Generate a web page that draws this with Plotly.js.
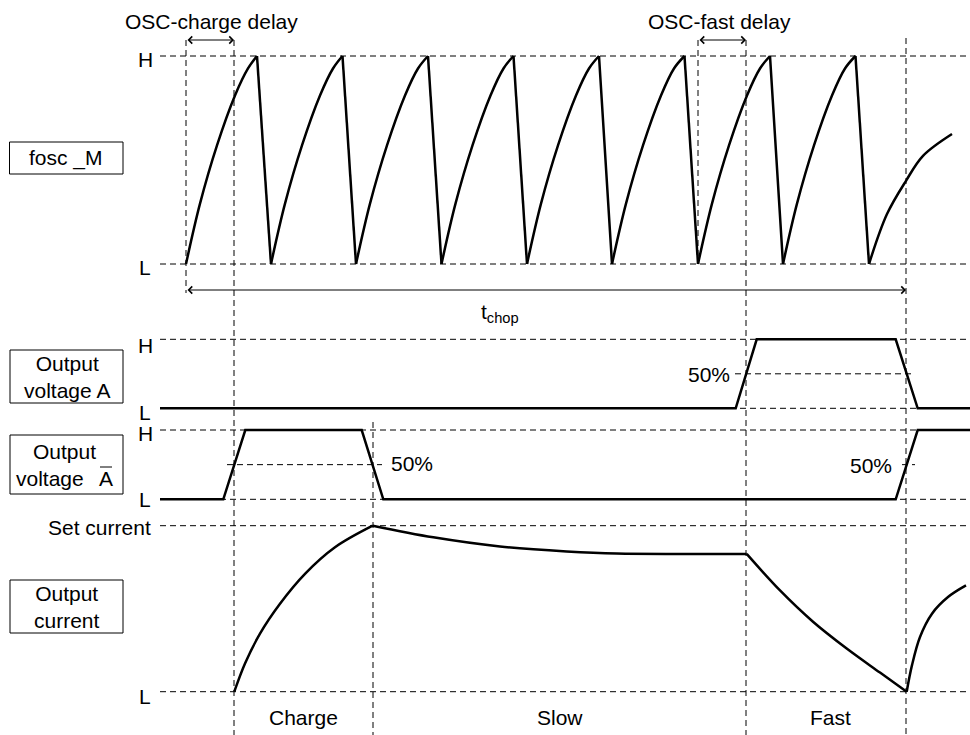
<!DOCTYPE html>
<html><head><meta charset="utf-8">
<script src="https://cdn.plot.ly/plotly-3.0.1.min.js"></script>
<style>html,body{margin:0;padding:0;background:#fff}#chart{width:970px;height:735px}</style>
</head><body><div id="chart"></div><script>
// ---- data (time in drawing units 0..970, levels: L = 0, H = 1) ----
const oscT = [186,200,217,235,248,257, 271,285,302,320,333,342.5, 356,370,387,405,418,428,
  441.5,455.5,472.5,490.5,503.5,513.5, 527,541,558,576,589,599, 612,626,643,661,674,684.5,
  698,712,729,747,760,770, 783,797,814,832,845,855.5, 869,887,906,923,952];
const oscV = [0,0.29,0.57,0.81,0.94,1, 0,0.29,0.57,0.81,0.94,1, 0,0.29,0.57,0.81,0.94,1,
  0,0.29,0.57,0.81,0.94,1, 0,0.29,0.57,0.81,0.94,1, 0,0.29,0.57,0.81,0.94,1,
  0,0.29,0.57,0.81,0.94,1, 0,0.29,0.57,0.81,0.94,1, 0,0.24,0.40,0.52,0.625];
const voltAT = [160,735.7,756.7,895.7,917.7,970];
const voltAV = [0,0,1,1,0,0];
const voltBT = [160,223.3,245.3,361.7,383.3,895.7,917.7,970];
const voltBV = [0,0,1,1,0,0,1,1];
const curChargeT = [234.3,245,260,280,305,335,372.7];
const curChargeV = [0,0.17,0.35,0.53,0.71,0.87,1];
const curSlowT = [372.7,433.3,500,566.7,616.7,700,746.7];
const curSlowV = [1,0.93,0.875,0.845,0.832,0.83,0.83];
const curFastT = [746.7,780,813.3,846.7,880,906.7];
const curFastV = [0.83,0.61,0.42,0.26,0.115,0];
const curRiseT = [906.7,912,920,932,948,966];
const curRiseV = [0,0.16,0.33,0.47,0.57,0.64];
const phaseLabels = ['Charge','Slow','Fast'];
const signalNames = ['fosc _M','Output<br>voltage A','Output<br>voltage\u2002 A','Output<br>current'];

// ---- layout helpers ----
const W = 970, Hh = 735;
const py = p => 1 - p / Hh;
const panels = [ {L:264, H:56, pad:0.15}, {L:408.3, H:339.3, pad:0.25},
                 {L:499.3, H:430, pad:0.25}, {L:691.7, H:525.7, pad:0.1} ];
const yIds = ['y','y2','y3','y4'];
const layout = {
  width: W, height: Hh, margin:{l:0,r:0,t:0,b:0}, showlegend:false,
  paper_bgcolor:'#fff', plot_bgcolor:'rgba(0,0,0,0)',
  font:{family:'Liberation Sans, Arial, sans-serif', size:21, color:'#000'},
  xaxis:{range:[0,W], visible:false, fixedrange:true},
  shapes:[], annotations:[]
};
panels.forEach((p,i)=>{
  const u = p.L - p.H;
  const key = i === 0 ? 'yaxis' : 'yaxis' + (i+1);
  layout[key] = {range:[-p.pad, 1+p.pad], visible:false, fixedrange:true,
    domain:[py(p.L + p.pad*u), py(p.H - p.pad*u)], anchor:'x'};
});
const dash = {dash:'6px,4px', width:1, color:'#000'};
const hline = (yr, lv, x0, x1) => ({type:'line', xref:'x', yref:yr, x0:x0, x1:x1, y0:lv, y1:lv, line:dash, layer:'below'});
const vline = (x, y0, y1) => ({type:'line', xref:'x', yref:'paper', x0:x, x1:x, y0:py(y0), y1:py(y1), line:dash, layer:'below'});
const rect = (x0,y0,x1,y1) => ({type:'rect', xref:'x', yref:'paper', x0:x0, x1:x1, y0:py(y0), y1:py(y1), line:{width:1,color:'#000'}});
const txt = (t, x, y, xa) => ({text:t, x:x, y:py(y), xref:'x', yref:'paper', showarrow:false, xanchor:xa||'center', yanchor:'middle'});
const arrow = (x0, x1, y, both) => ({text:'', xref:'x', yref:'paper', x:x1, y:py(y), axref:'x', ax:x0, ayref:'pixel', ay:0,
  showarrow:true, arrowhead:4, startarrowhead:4, arrowside: both ? 'end+start' : 'end', arrowsize:1.4, arrowwidth:1, arrowcolor:'#000', standoff:0, startstandoff:0});

// level lines
yIds.forEach(id => { layout.shapes.push(hline(id,0,160,W)); layout.shapes.push(hline(id,1,160,W)); });
layout.shapes.push(hline('y2',0.5,735,915));
layout.shapes.push(hline('y3',0.5,227,382));
layout.shapes.push(hline('y3',0.5,902,915));
// vertical timing markers
layout.shapes.push(vline(186,40,293), vline(234,40,735), vline(373,422,735),
                   vline(698,40,264), vline(746,40,735), vline(906,38,735));
// name boxes
layout.shapes.push(rect(9.5,142,123,174), rect(10,350,123,403), rect(10,435,123,494), rect(10,580,123,633));
// overline on A
layout.shapes.push({type:'line', xref:'x', yref:'paper', x0:100, x1:112, y0:py(467), y1:py(467), line:{width:1,color:'#000'}});

const A = layout.annotations;
A.push(txt(signalNames[0],66,158), txt(signalNames[1],66.5,376.5), txt(signalNames[2],64.5,464.5), txt(signalNames[3],66.5,606.5));
A.push(txt('H',145,59), txt('L',145,267), txt('H',145,345), txt('L',145,412), txt('H',145,433), txt('L',145,499),
       txt('Set current',153,527,'right'), txt('L',145,696));
A.push(txt('50%',732,374,'right'), txt('50%',389,463,'left'), txt('50%',894,465,'right'));
A.push(txt('OSC-charge delay',211,21), txt('OSC-fast delay',719.5,21), txt('t<sub>chop</sub>',500,313));
A.push(txt(phaseLabels[0],303.5,717), txt(phaseLabels[1],559.5,717), txt(phaseLabels[2],830,717));
A.push(arrow(186,234,40,true), arrow(698,746,40,true), arrow(186,906,290,true));

// ---- traces ----
const blk = w => ({color:'#000', width:w});
function splitRunsDirectional(t, v){
  const rise = {x:[],y:[]}, fall = {x:[],y:[]};
  let prevDir = null;
  for (let i=0;i<t.length-1;i++){
    const dir = v[i+1] > v[i] ? 'r' : 'f';
    const tgt = dir==='r' ? rise : fall;
    if (dir !== prevDir){ if (tgt.x.length){ tgt.x.push(null); tgt.y.push(null);} tgt.x.push(t[i]); tgt.y.push(v[i]); }
    tgt.x.push(t[i+1]); tgt.y.push(v[i+1]);
    prevDir = dir;
  }
  return {rise, fall};
}
const osc = splitRunsDirectional(oscT, oscV);
const spl = () => Object.assign(blk(2.5),{shape:'spline', smoothing:1});
const traces = [
  {x:osc.rise.x, y:osc.rise.y, yaxis:'y', mode:'lines', line:spl(), connectgaps:false, hoverinfo:'skip'},
  {x:osc.fall.x, y:osc.fall.y, yaxis:'y', mode:'lines', line:blk(2.5), connectgaps:false, hoverinfo:'skip'},
  {x:voltAT, y:voltAV, yaxis:'y2', mode:'lines', line:blk(2.5), hoverinfo:'skip'},
  {x:voltBT, y:voltBV, yaxis:'y3', mode:'lines', line:blk(2.5), hoverinfo:'skip'},
  {x:curChargeT, y:curChargeV, yaxis:'y4', mode:'lines', line:spl(), hoverinfo:'skip'},
  {x:curSlowT, y:curSlowV, yaxis:'y4', mode:'lines', line:spl(), hoverinfo:'skip'},
  {x:curFastT, y:curFastV, yaxis:'y4', mode:'lines', line:spl(), hoverinfo:'skip'},
  {x:curRiseT, y:curRiseV, yaxis:'y4', mode:'lines', line:spl(), hoverinfo:'skip'}
];
Plotly.newPlot('chart', traces, layout, {staticPlot:true, displayModeBar:false});
</script></body></html>
